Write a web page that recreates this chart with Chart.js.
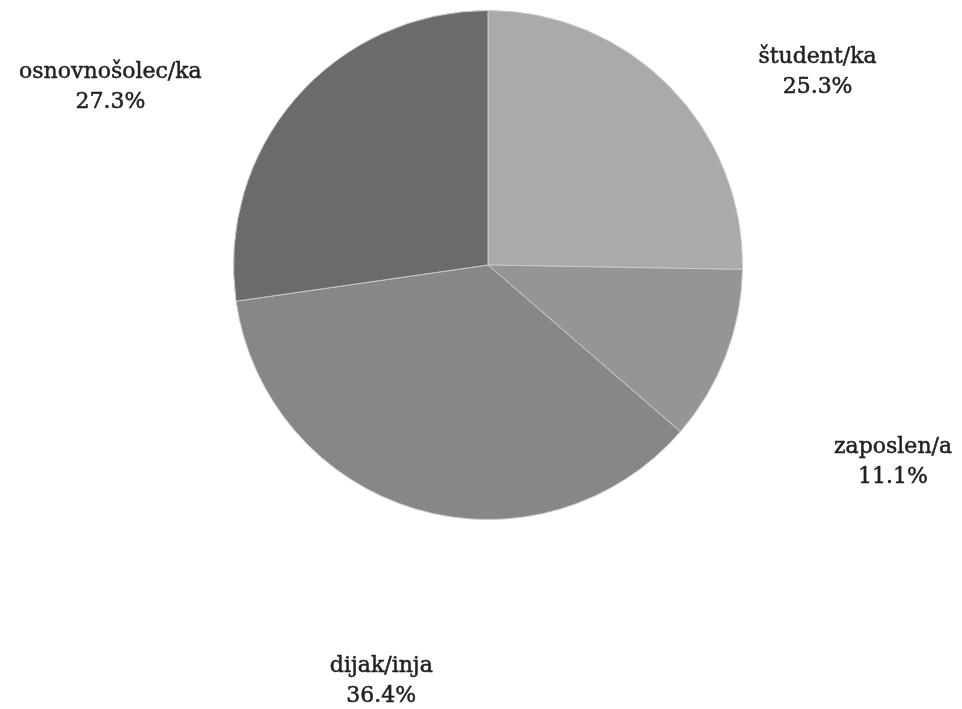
<!doctype html>
<html lang="sl">
  <head>
    <meta charset="utf-8">
    <title>Status anketirancev</title>
    <style>
      * {
        margin: 0;
        padding: 0;
      }
      body {
        background: #ffffff;
      }
      .chartBox {
        width: 962px;
        height: 709px;
      }
    </style>
  </head>
  <body>
    <div class="chartBox">
      <canvas id="myChart"></canvas>
    </div>
    <script src="https://cdn.jsdelivr.net/npm/chart.js"></script>
    <script>
    // data
    const categories = ['študent/ka', 'zaposlen/a', 'dijak/inja', 'osnovnošolec/ka'];
    const shares = [25.3, 11.1, 36.4, 27.3];
    const sliceColors = ['#aaaaaa', '#959595', '#878787', '#6b6b6b'];

    // where each label sits: turn = degrees away from slice middle, reach = distance in radii
    const labelPlacement = [
      { turn: 14.2, reach: 1.50 },
      { turn: 5.0, reach: 1.77 },
      { turn: -2.0, reach: 1.69 },
      { turn: -15.7, reach: 1.64 }
    ];

    // draws "name / percent" outside each slice
    const outsideLabels = {
      id: 'outsideLabels',
      afterDatasetsDraw(chart) {
        const ctx = chart.ctx;
        const meta = chart.getDatasetMeta(0);
        ctx.save();
        ctx.font = '22px "DejaVu Serif"';
        ctx.fillStyle = '#222222';
        ctx.strokeStyle = '#222222';
        ctx.lineWidth = 0.5;
        ctx.textAlign = 'center';
        ctx.textBaseline = 'middle';
        meta.data.forEach((arc, i) => {
          const p = arc.getProps(['x', 'y', 'startAngle', 'endAngle', 'outerRadius'], true);
          const mid = (p.startAngle + p.endAngle) / 2 + labelPlacement[i].turn * Math.PI / 180;
          const r = p.outerRadius * labelPlacement[i].reach;
          const cx = p.x + Math.cos(mid) * r;
          const cy = p.y + Math.sin(mid) * r;
          const pct = shares[i].toFixed(1) + '%';
          ctx.fillText(categories[i], cx, cy - 15);
          ctx.strokeText(categories[i], cx, cy - 15);
          ctx.fillText(pct, cx, cy + 15);
          ctx.strokeText(pct, cx, cy + 15);
        });
        ctx.restore();
      }
    };

    // config
    const config = {
      type: 'pie',
      data: {
        labels: categories,
        datasets: [{
          data: shares,
          backgroundColor: sliceColors,
          borderColor: '#c9c9c9',
          borderWidth: 1
        }]
      },
      options: {
        responsive: true,
        maintainAspectRatio: false,
        animation: false,
        layout: {
          padding: { top: 10, bottom: 189, left: 14, right: 0 }
        },
        plugins: {
          legend: { display: false },
          tooltip: { enabled: false }
        }
      },
      plugins: [outsideLabels]
    };

    const myChart = new Chart(
      document.getElementById('myChart'),
      config
    );
    </script>
  </body>
</html>
